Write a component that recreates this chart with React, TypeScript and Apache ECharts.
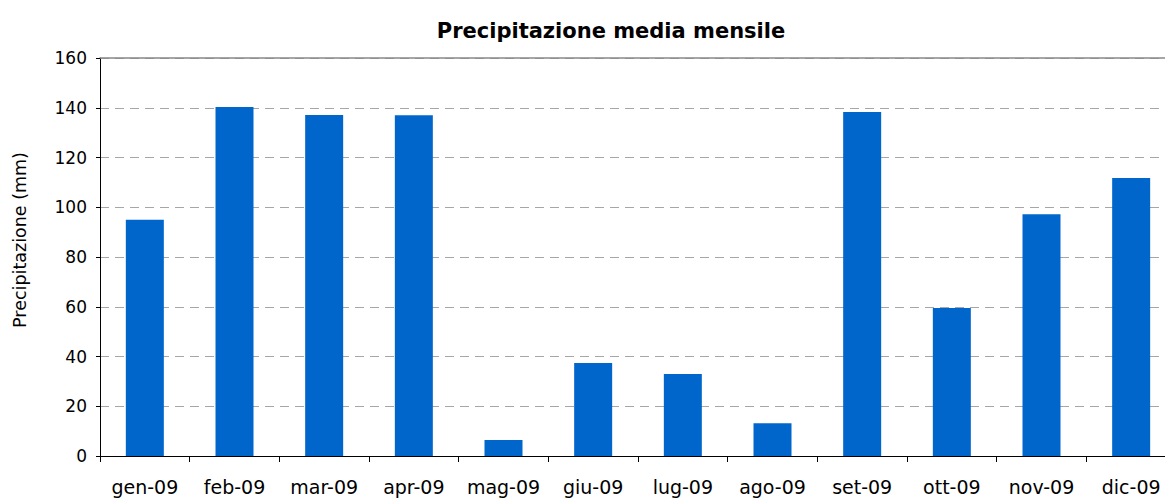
import React, { useEffect, useRef } from "react";
import * as echarts from "echarts";

const categories = ["gen-09", "feb-09", "mar-09", "apr-09", "mag-09", "giu-09", "lug-09", "ago-09", "set-09", "ott-09", "nov-09", "dic-09"];
const precipitation = [95, 140.3, 137.1, 137, 6.4, 37.4, 33, 13.2, 138.3, 59.5, 97.2, 111.8];
const yTicks = { min: 0, max: 160, interval: 20 };
const titleText = "Precipitazione media mensile";
const yAxisTitle = "Precipitazione (mm)";

const FONT = "DejaVu Sans";

export default function App() {
  const ref = useRef<HTMLDivElement>(null);
  useEffect(() => {
    document.body.style.margin = "0";
    document.documentElement.style.overflow = "hidden";
    document.body.style.overflow = "hidden";
    const chart = echarts.init(ref.current!, null, { renderer: "svg" });
    chart.setOption({
      animation: false,
      backgroundColor: "#ffffff",
      title: {
        text: titleText,
        left: 606,
        top: 15,
        textAlign: "center",
        textStyle: { fontFamily: FONT, fontSize: 21, fontWeight: "bold", color: "#000" },
      },
      graphic: [
        {
          type: "text",
          x: 20,
          y: 240,
          rotation: Math.PI / 2,
          style: {
            text: yAxisTitle,
            fontFamily: FONT,
            fontSize: 17.5,
            fill: "#000",
            textAlign: "center",
            textVerticalAlign: "middle",
          },
        },
      ],
      grid: { left: 100, top: 58, width: 1076, height: 398 },
      xAxis: [
        {
          type: "category",
          data: categories,
          boundaryGap: true,
          axisLine: { show: true, lineStyle: { color: "#000", width: 1 } },
          axisTick: { show: true, length: 6, alignWithLabel: false, lineStyle: { color: "#000" } },
          axisLabel: { fontFamily: FONT, fontSize: 19, color: "#000", margin: 21, interval: 0 },
          splitLine: { show: false },
        },
        {
          type: "category",
          data: categories,
          position: "top",
          axisLine: { show: true, lineStyle: { color: "#888", width: 1.5 } },
          axisTick: { show: false },
          axisLabel: { show: false },
          splitLine: { show: false },
        },
      ],
      yAxis: {
        type: "value",
        min: yTicks.min,
        max: yTicks.max,
        interval: yTicks.interval,
        axisLine: { show: true, lineStyle: { color: "#000", width: 1 } },
        axisTick: { show: true, length: 4, lineStyle: { color: "#000" } },
        axisLabel: { fontFamily: FONT, fontSize: 17, color: "#000", margin: 13 },
        splitLine: { show: true, lineStyle: { color: "#a6a6a6", type: [9, 6], width: 1.2 } },
      },
      series: [
        {
          type: "bar",
          data: precipitation,
          barWidth: 38,
          itemStyle: { color: "#0066cc" },
        },
      ],
    });
    return () => chart.dispose();
  }, []);
  return <div ref={ref} style={{ width: 1190, height: 499 }} />;
}
